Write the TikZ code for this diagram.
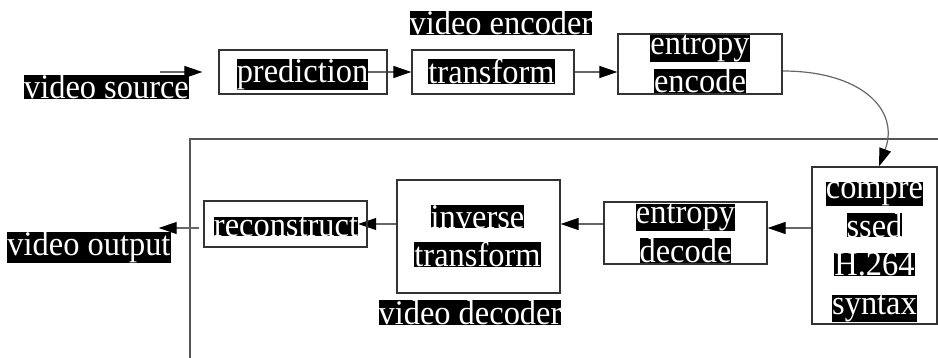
\documentclass[tikz,border=0pt]{standalone}
\usepackage{fontspec}
\setmainfont{Liberation Serif}[FakeStretch=0.94]
\usetikzlibrary{arrows.meta}
\definecolor{boxc}{HTML}{333333}
\definecolor{linec}{HTML}{666666}
\definecolor{framec}{HTML}{555555}
\newcommand\lblfont{\fontsize{34.5}{38.5}\selectfont}
\newcommand\blk[1]{{\setlength\fboxsep{0pt}\colorbox{black}{\textcolor{white}{#1}}}}
\pgfdeclarelayer{bg}
\pgfsetlayers{bg,main}
\tikzset{
  boxnode/.style={draw=boxc, line width=1.3pt, inner sep=0pt},
  lbl/.style={inner sep=0pt, font=\lblfont, align=center},
  conn/.style={draw=linec, line width=1.2pt,
    -{Triangle[length=18pt,width=12pt,black]}},
  frame/.style={draw=framec, line width=1.3pt},
}
\begin{document}
\begin{tikzpicture}[x=1pt,y=-1pt]
\useasboundingbox (0,0) rectangle (938,358);

% encoder row
\node[lbl] (enc) at (501,23) {\blk{video encoder}};
\node[lbl] (src) at (106.5,87) {\blk{video source}};
\node[boxnode, minimum width=168pt, minimum height=44pt] (pred) at (303,72) {};
\node[lbl] (predT) at (302.5,74.5) {\blk{prediction}};
\node[boxnode, minimum width=162pt, minimum height=44pt] (trans) at (493,72) {};
\node[lbl] (transT) at (491.5,71.5) {\blk{transform}};
\node[boxnode, minimum width=164pt, minimum height=60pt] (ee) at (700,64) {};
\node[lbl] (eeT) at (700,64) {\blk{entropy}\\\blk{encode}};

% decoder row
\node[boxnode, minimum width=125pt, minimum height=157pt] (cmp) at (874.5,245.5) {};
\node[lbl] (cmpT) at (874.5,252) {\blk{compre}\\\blk{ssed}\\\blk{H.264}\\\blk{syntax}};
\node[boxnode, minimum width=163pt, minimum height=62pt] (ed) at (685.5,233) {};
\node[lbl] (edT) at (685.5,233.5) {\blk{entropy}\\\blk{decode}};
\node[boxnode, minimum width=163pt, minimum height=113pt] (inv) at (478.5,236.5) {};
\node[lbl] (invT) at (477.5,236) {\blk{inverse}\\\blk{transform}};
\node[boxnode, minimum width=163pt, minimum height=46pt] (rec) at (285.5,224) {};
\node[lbl] (recT) at (286,226.5) {\blk{reconstruct}};
\node[lbl] (dec) at (470,312.5) {\blk{video decoder}};
\node[lbl] (out) at (89,247.5) {\blk{video output}};

% connection points
\coordinate (srcA) at ([xshift=53.5pt,yshift=15pt]src.center);
\coordinate (edin) at ([yshift=5pt]ed.east);
\coordinate (invin) at ([yshift=12.5pt]inv.east);
\coordinate (recout) at ([xshift=-4pt,yshift=-4pt]rec.west);
\coordinate (outtip) at ([xshift=-12pt]out.east);

\begin{pgfonlayer}{bg}
  % decoder frame
  \draw[frame] (190,358) -- (190,139) -- (938,139);
  % connectors
  \draw[conn] (srcA) -- ([xshift=-16pt]pred.west);
  \draw[conn] (predT.east |- pred) -- (trans.west);
  \draw[conn] (trans.east) -- (trans.east -| ee.west);
  \draw[conn] ([yshift=-7pt]ee.east) .. controls +(78,0) and +(21,-57) .. ([xshift=4.5pt]cmp.north);
  \draw[conn] (edin -| cmp.west) -- (edin);
  \draw[conn] (invin -| ed.west) -- (invin);
  \draw[conn] (inv.west |- rec) -- (recT.east |- rec);
  \draw[conn] (recout) -- (recout -| outtip);
\end{pgfonlayer}
\end{tikzpicture}
\end{document}
